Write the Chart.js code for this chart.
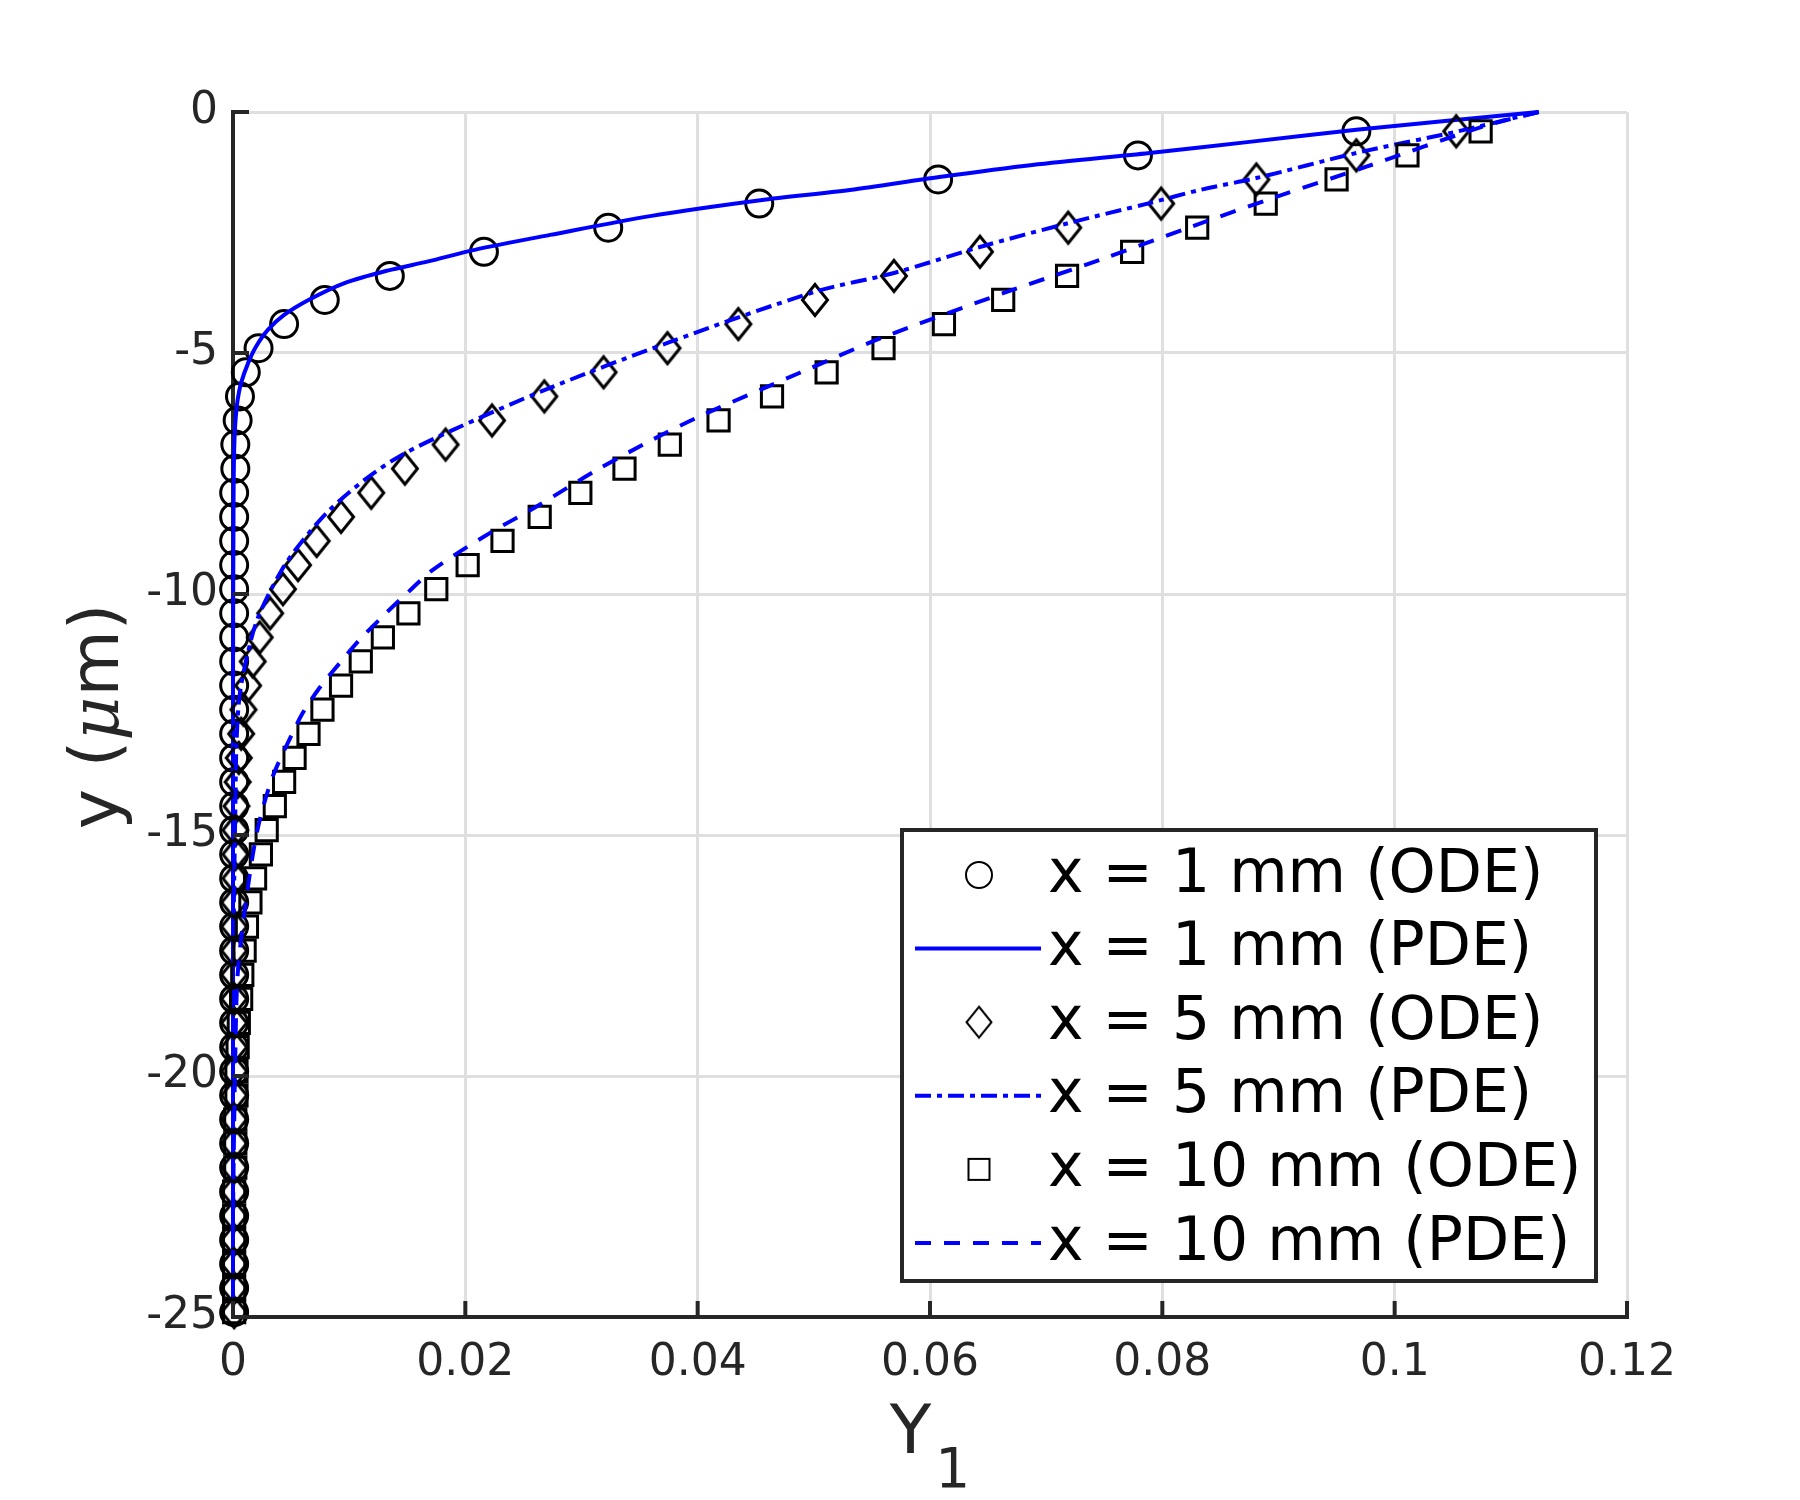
<!DOCTYPE html>
<html>
<head>
<meta charset="utf-8">
<script src="https://cdn.jsdelivr.net/npm/chart.js@4.4.0/dist/chart.umd.min.js"></script>
<style>
  html, body { margin: 0; padding: 0; background: #fff; }
  #wrap { width: 1800px; height: 1500px; }
</style>
</head>
<body>
<div id="wrap"><canvas id="chart" width="1800" height="1500"></canvas></div>
<script>
// depth grid of the ODE markers (um)
const yOde = [-0.4, -0.9, -1.4, -1.9, -2.4, -2.9, -3.4, -3.9, -4.4, -4.9,
  -5.4, -5.9, -6.4, -6.9, -7.4, -7.9, -8.4, -8.9, -9.4, -9.9,
  -10.4, -10.9, -11.4, -11.9, -12.4, -12.9, -13.4, -13.9, -14.4, -14.9,
  -15.4, -15.9, -16.4, -16.9, -17.4, -17.9, -18.4, -18.9, -19.4, -19.9,
  -20.4, -20.9, -21.4, -21.9, -22.4, -22.9, -23.4, -23.9, -24.4, -24.9];

const odeX1 = [0.0967, 0.0779, 0.0607, 0.0453, 0.0323, 0.0216, 0.0135, 0.0079, 0.0044, 0.0022,
  0.0011, 0.0006, 0.0004, 0.0002, 0.0002, 0.0001, 0.0001, 0.0001, 0.0001, 0.0001,
  0.0001, 0.0001, 0.0001, 0.0001, 0.0001, 0.0001, 0.0001, 0.0001, 0.0001, 0.0001,
  0.0001, 0.0001, 0.0001, 0.0001, 0.0001, 0.0001, 0.0001, 0.0001, 0.0001, 0.0001,
  0.0001, 0.0001, 0.0001, 0.0001, 0.0001, 0.0001, 0.0001, 0.0001, 0.0001, 0.0001];

const odeX5 = [0.1053, 0.0967, 0.0881, 0.0799, 0.0719, 0.0643, 0.0569, 0.0501, 0.0435, 0.0374,
  0.0319, 0.0268, 0.0223, 0.0183, 0.0148, 0.0119, 0.0093, 0.0072, 0.0056, 0.0043,
  0.0032, 0.0023, 0.0017, 0.0013, 0.0009, 0.0007, 0.0005, 0.0004, 0.0003, 0.0002,
  0.0002, 0.0002, 0.0001, 0.0001, 0.0001, 0.0001, 0.0001, 0.0001, 0.0001, 0.0001,
  0.0001, 0.0001, 0.0001, 0.0001, 0.0001, 0.0001, 0.0001, 0.0001, 0.0001, 0.0001];

const odeX10 = [0.1074, 0.1011, 0.0950, 0.0889, 0.0830, 0.0774, 0.0718, 0.0663, 0.0612, 0.0560,
  0.0511, 0.0464, 0.0418, 0.0376, 0.0337, 0.0299, 0.0264, 0.0232, 0.0202, 0.0175,
  0.0151, 0.0129, 0.0110, 0.0093, 0.0077, 0.0065, 0.0053, 0.0044, 0.0036, 0.0029,
  0.0024, 0.0019, 0.0015, 0.0012, 0.0010, 0.0008, 0.0007, 0.0005, 0.0004, 0.0003,
  0.0003, 0.0002, 0.0002, 0.0002, 0.0001, 0.0001, 0.0001, 0.0001, 0.0001, 0.0001];

// PDE profiles
const pdeY1 = [0, -0.37, -0.62, -0.85, -1.1, -1.35, -1.62, -1.83, -2.16, -2.55, -2.86, -3.10, -3.29,
  -3.55, -3.90, -4.21, -4.52, -4.86, -5.21, -5.62, -5.97, -6.45, -7.0, -8, -12, -25];
const pdeX1 = [0.1124, 0.0967, 0.0875, 0.0789, 0.0688, 0.0608, 0.0531, 0.0454, 0.0359, 0.0273, 0.0208, 0.0168, 0.0133,
  0.0096, 0.0065, 0.0044, 0.0030, 0.0020, 0.0013, 0.0007, 0.0004, 0.0002, 0.0001, 0.00005, 0, 0];

const pdeY5 = [0, -0.41, -0.85, -1.37, -1.62, -1.89, -2.30, -2.80, -3.34, -3.73, -4.79, -5.77,
  -6.60, -7.12, -7.6, -8.26, -8.95, -9.5, -10.4, -11.0, -12.05, -13.1, -14.5, -16, -18, -25];
const pdeX5 = [0.1124, 0.1053, 0.0967, 0.0881, 0.0832, 0.0789, 0.0720, 0.0643, 0.0569, 0.0501, 0.0374, 0.0268,
  0.0189, 0.0145, 0.0115, 0.0083, 0.0058, 0.0042, 0.0023, 0.0015, 0.0006, 0.0003, 0.0002, 0.0001, 0, 0];

const pdeY10 = [0, -0.31, -1.14, -1.76, -2.37, -3.07, -3.76, -4.69, -5.41, -6.29, -6.80, -7.43, -8.19,
  -8.78, -9.50, -9.98, -10.39, -10.95, -11.43, -11.93, -12.47, -12.9, -13.8, -14.9, -16.4, -17.9,
  -19.5, -21, -23, -25];
const pdeX10 = [0.1124, 0.1075, 0.0975, 0.0898, 0.0826, 0.0746, 0.0663, 0.0558, 0.0488, 0.0404, 0.0361, 0.0313, 0.0261,
  0.0218, 0.0172, 0.0150, 0.0132, 0.0109, 0.0092, 0.0075, 0.0060, 0.0051, 0.0034, 0.0021, 0.0011, 0.0004,
  0.0002, 0.0001, 0, 0];

const seriesLabels = ["x = 1 mm (ODE)", "x = 1 mm (PDE)", "x = 5 mm (ODE)",
  "x = 5 mm (PDE)", "x = 10 mm (ODE)", "x = 10 mm (PDE)"];

const xTicks = [0, 0.02, 0.04, 0.06, 0.08, 0.1, 0.12];
const xTickLabels = ["0", "0.02", "0.04", "0.06", "0.08", "0.1", "0.12"];
const yTicks = [-25, -20, -15, -10, -5, 0];
const yTickLabels = ["-25", "-20", "-15", "-10", "-5", "0"];

const FONT = "'DejaVu Sans', sans-serif";
const AXIS_COLOR = "#262626";
const BLUE = "#0000ff";

function pairs(xs, ys) {
    return xs.map((x, i) => ({ x: x, y: ys[i] }));
}

// MATLAB style diamond (taller than wide)
function diamondCanvas(lw) {
    const c = document.createElement("canvas");
    c.width = 34;
    c.height = 40;
    const g = c.getContext("2d");
    g.strokeStyle = "#000";
    g.lineWidth = lw;
    g.beginPath();
    g.moveTo(17, 4.5);
    g.lineTo(29.5, 20);
    g.lineTo(17, 35.5);
    g.lineTo(4.5, 20);
    g.closePath();
    g.stroke();
    return c;
}
const diamond = diamondCanvas(3);
const diamondThin = diamondCanvas(2);

function markerDataset(label, xs, style, radius, order) {
    return {
        label: label,
        data: pairs(xs, yOde),
        showLine: false,
        pointStyle: style,
        pointRadius: radius,
        pointBorderWidth: 3,
        pointBorderColor: "#000",
        pointBackgroundColor: "rgba(0,0,0,0)",
        order: order,
        clip: false
    };
}

function lineDataset(label, xs, ys, dash, order) {
    return {
        label: label,
        data: pairs(xs, ys),
        showLine: true,
        borderColor: BLUE,
        borderWidth: 4,
        borderDash: dash,
        pointRadius: 0,
        tension: 0.3,
        order: order,
        clip: false
    };
}

const datasets = [
    markerDataset(seriesLabels[0], odeX1, "circle", 13.5, 6),
    lineDataset(seriesLabels[1], pdeX1, pdeY1, [], 5),
    markerDataset(seriesLabels[2], odeX5, diamond, 14, 4),
    lineDataset(seriesLabels[3], pdeX5, pdeY5, [16, 6, 5, 6], 3),
    markerDataset(seriesLabels[4], odeX10, "rect", 15, 2),
    lineDataset(seriesLabels[5], pdeX10, pdeY10, [16, 13], 1)
];

// inward tick marks like MATLAB
const tickPlugin = {
    id: "inwardTicks",
    afterDatasetsDraw(chart) {
        const ctx = chart.ctx;
        const a = chart.chartArea;
        const xs = chart.scales.x, ys = chart.scales.y;
        ctx.save();
        ctx.strokeStyle = AXIS_COLOR;
        ctx.lineWidth = 4;
        ctx.beginPath();
        xTicks.forEach((v) => {
            const px = xs.getPixelForValue(v);
            ctx.moveTo(px, a.bottom);
            ctx.lineTo(px, a.bottom - 16);
        });
        yTicks.forEach((v) => {
            const py = ys.getPixelForValue(v);
            ctx.moveTo(a.left, py);
            ctx.lineTo(a.left + 16, py);
        });
        ctx.stroke();
        ctx.restore();
    }
};

const titlePlugin = {
    id: "axisTitles",
    afterDraw(chart) {
        const ctx = chart.ctx;
        const a = chart.chartArea;
        ctx.save();
        ctx.fillStyle = AXIS_COLOR;
        ctx.textBaseline = "alphabetic";
        ctx.textAlign = "left";

        // x title: Y with subscript 1
        const bigFont = "68px " + FONT;
        const subFont = "55px " + FONT;
        ctx.font = bigFont;
        const wY = ctx.measureText("Y").width;
        ctx.font = subFont;
        const w1 = ctx.measureText("1").width;
        const cx = (a.left + a.right) / 2;
        const x0 = cx - (wY + w1 + 4) / 2;
        ctx.font = bigFont;
        ctx.fillText("Y", x0, 1453);
        ctx.font = subFont;
        ctx.fillText("1", x0 + wY + 4, 1487);

        // y title: y (um) with italic mu
        const parts = [
            { t: "y (", f: "68px " + FONT },
            { t: "\u03bc", f: "italic 68px 'DejaVu Serif', serif" },
            { t: "m)", f: "68px " + FONT }
        ];
        let total = 0;
        parts.forEach((p) => {
            ctx.font = p.f;
            p.w = ctx.measureText(p.t).width;
            total += p.w;
        });
        ctx.translate(118, (a.top + a.bottom) / 2 + 2);
        ctx.rotate(-Math.PI / 2);
        let pos = -total / 2;
        parts.forEach((p) => {
            ctx.font = p.f;
            ctx.fillText(p.t, pos, 0);
            pos += p.w;
        });
        ctx.restore();
    }
};

function drawLegendMarker(ctx, ds, x, y) {
    ctx.save();
    ctx.strokeStyle = "#000";
    ctx.lineWidth = 2;
    if (ds.pointStyle === "circle") {
        ctx.beginPath();
        ctx.arc(x, y, 13, 0, Math.PI * 2);
        ctx.stroke();
    } else if (ds.pointStyle === "rect") {
        ctx.strokeRect(x - 10.5, y - 10.5, 21, 21);
    } else {
        ctx.drawImage(diamondThin, x - 17, y - 20);
    }
    ctx.restore();
}

const legendPlugin = {
    id: "boxLegend",
    afterDraw(chart) {
        const ctx = chart.ctx;
        const left = 902, top = 830, w = 694, h = 451;
        ctx.save();
        ctx.fillStyle = "#fff";
        ctx.fillRect(left, top, w, h);
        ctx.strokeStyle = AXIS_COLOR;
        ctx.lineWidth = 4;
        ctx.strokeRect(left, top, w, h);

        chart.data.datasets.forEach((ds, i) => {
            const rowY = 875 + i * 73.6;
            if (ds.showLine) {
                ctx.save();
                ctx.strokeStyle = ds.borderColor;
                ctx.lineWidth = 4;
                ctx.setLineDash(ds.borderDash);
                ctx.beginPath();
                ctx.moveTo(915, rowY);
                ctx.lineTo(1041, rowY);
                ctx.stroke();
                ctx.restore();
            } else {
                drawLegendMarker(ctx, ds, 979, rowY);
            }
            ctx.fillStyle = "#000";
            ctx.font = "60px " + FONT;
            ctx.textBaseline = "middle";
            ctx.textAlign = "left";
            ctx.fillText(ds.label, 1048, rowY + 1);
        });
        ctx.restore();
    }
};

new Chart(document.getElementById("chart"), {
    type: "scatter",
    data: { datasets },
    plugins: [tickPlugin, titlePlugin, legendPlugin],
    options: {
        responsive: false,
        animation: false,
        devicePixelRatio: 1,
        layout: { padding: { top: 112, right: 173, left: 0, bottom: 0 } },
        plugins: {
            legend: { display: false },
            tooltip: { enabled: false }
        },
        scales: {
            x: {
                type: "linear",
                min: 0,
                max: 0.12,
                afterBuildTicks: (scale) => {
                    scale.ticks = xTicks.map((v) => ({ value: v }));
                },
                afterFit: (scale) => { scale.height = 183; },
                ticks: {
                    callback: (v, i) => xTickLabels[i],
                    font: { family: FONT, size: 44 },
                    color: AXIS_COLOR,
                    padding: 20,
                    maxRotation: 0,
                    autoSkip: false
                },
                grid: { color: "#dfdfdf", lineWidth: 3, drawTicks: false },
                border: { display: true, color: AXIS_COLOR, width: 4 }
            },
            y: {
                type: "linear",
                min: -25,
                max: 0,
                afterBuildTicks: (scale) => {
                    scale.ticks = yTicks.map((v) => ({ value: v }));
                },
                afterFit: (scale) => { scale.width = 233; },
                ticks: {
                    callback: (v, i) => yTickLabels[i],
                    font: { family: FONT, size: 44 },
                    color: AXIS_COLOR,
                    padding: 15,
                    autoSkip: false
                },
                grid: { color: "#dfdfdf", lineWidth: 3, drawTicks: false },
                border: { display: true, color: AXIS_COLOR, width: 4 }
            }
        }
    }
});
</script>
</body>
</html>
